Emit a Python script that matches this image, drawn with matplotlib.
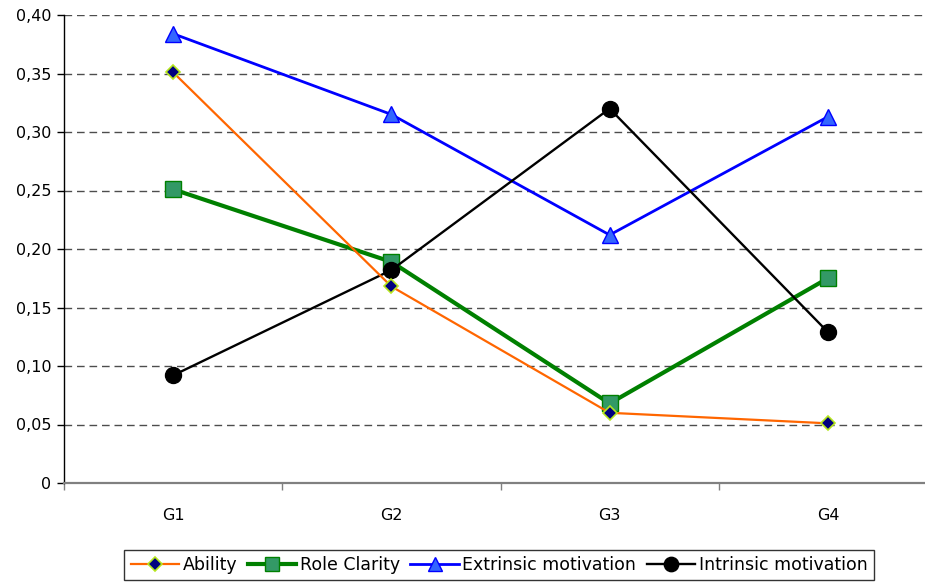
import matplotlib
matplotlib.use("Agg")
import matplotlib.pyplot as plt
from matplotlib.ticker import FixedLocator, FuncFormatter

categories = ["G1", "G2", "G3", "G4"]
ability = [0.351, 0.168, 0.060, 0.051]
role_clarity = [0.251, 0.189, 0.068, 0.175]
extrinsic = [0.384, 0.315, 0.212, 0.313]
intrinsic = [0.092, 0.182, 0.320, 0.129]
y_ticks = [0, 0.05, 0.10, 0.15, 0.20, 0.25, 0.30, 0.35, 0.40]

plt.rcParams['font.family'] = ['DejaVu Sans']

fig = plt.figure(figsize=(9.25, 5.86), dpi=100)
ax = fig.add_axes([64/925, 103/586, (937-64)/925, (483-15)/586])

x = list(range(len(categories)))

ax.plot(x, ability, color='#FF6600', lw=1.6, marker='D', ms=7.5,
        mfc='#000080', mec='#B5E61D', mew=1.2, label='Ability', zorder=4)
ax.plot(x, role_clarity, color='#008000', lw=3.0, marker='s', ms=11,
        mfc='#339966', mec='#008000', mew=1.0, label='Role Clarity', zorder=3)
ax.plot(x, extrinsic, color='#0000FF', lw=2.0, marker='^', ms=11.5,
        mfc='#3366FF', mec='#0000FF', mew=1.0, label='Extrinsic motivation', zorder=3)
ax.plot(x, intrinsic, color='black', lw=1.7, marker='o', ms=11.5,
        mfc='black', mec='black', label='Intrinsic motivation', zorder=3)

ax.set_xlim(-0.5, 3.5)
ax.set_ylim(0, 0.40)

ax.yaxis.set_major_locator(FixedLocator(y_ticks))
ax.yaxis.set_major_formatter(FuncFormatter(lambda v, p: "0" if abs(v) < 1e-9 else f"{v:.2f}".replace('.', ',')))
for yv in y_ticks[1:]:
    ax.axhline(yv, color='#4d4d4d', lw=1.0, ls=(0, (5.5, 3.5)), zorder=1)

ax.set_xticks(x)
ax.set_xticklabels(categories)
ax.set_xticks([-0.5, 0.5, 1.5, 2.5, 3.5], minor=True)
ax.tick_params(axis='x', which='major', length=0, pad=18, labelsize=11.5)
ax.tick_params(axis='x', which='minor', length=5, color='#808080', width=1)
ax.tick_params(axis='y', length=5, width=1, color='black', labelsize=11.5, pad=4)

for s in ['top', 'right']:
    ax.spines[s].set_visible(False)
ax.spines['left'].set_color('black')
ax.spines['left'].set_linewidth(1.0)
ax.spines['bottom'].set_color('#808080')
ax.spines['bottom'].set_linewidth(1.6)

leg = fig.legend(loc='center', bbox_to_anchor=(499/925, 21/586), ncol=4,
                 fontsize=12.5, frameon=True, fancybox=False, edgecolor='black',
                 handlelength=2.8, handletextpad=0.2, columnspacing=0.6,
                 borderpad=0.35, borderaxespad=0, markerscale=0.9)
leg.get_frame().set_linewidth(1.0)

fig.savefig("out.png", dpi=100)
